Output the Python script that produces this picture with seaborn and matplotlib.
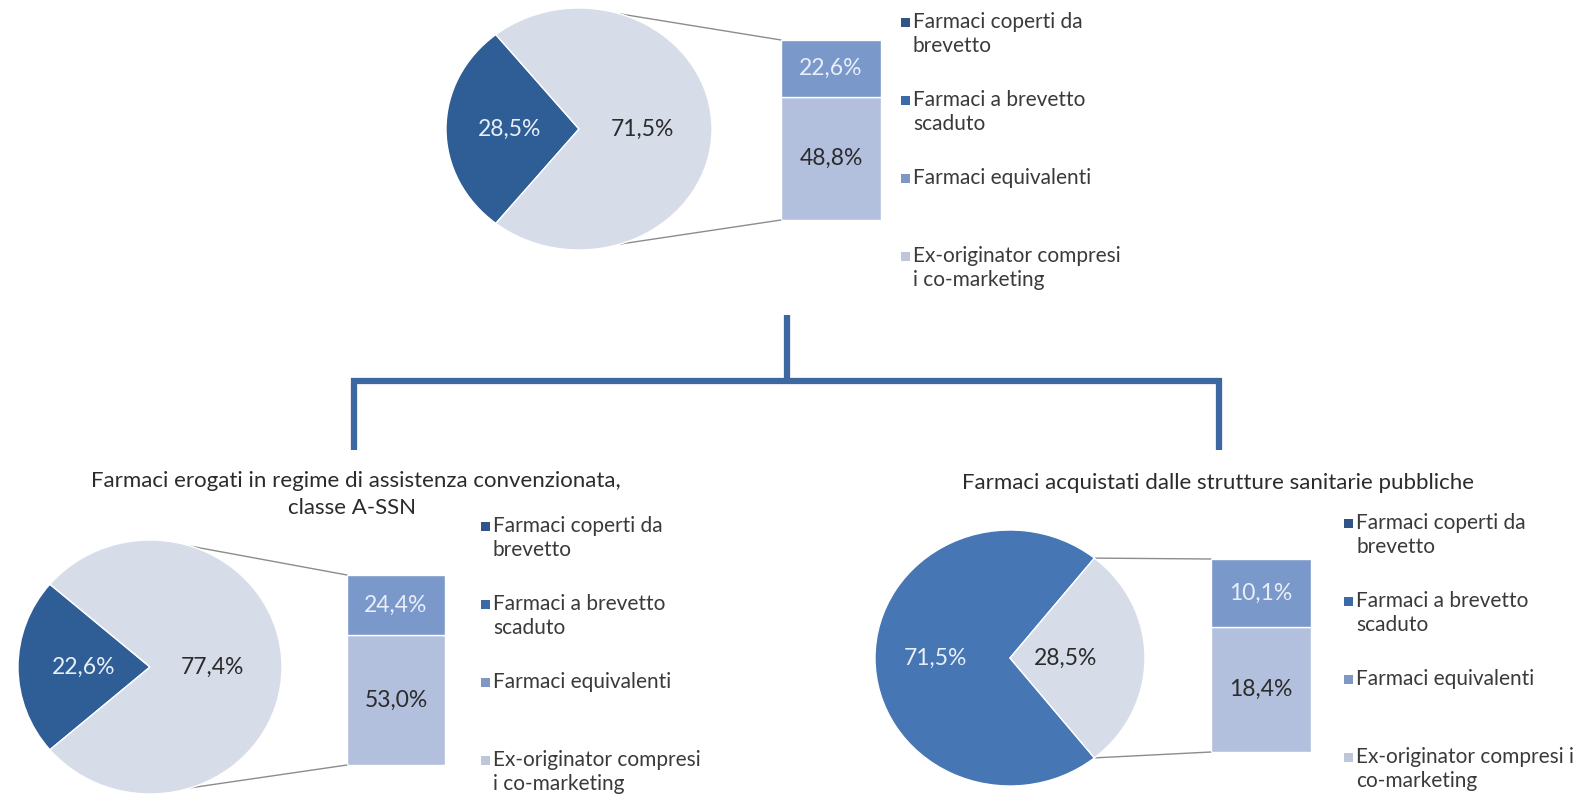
import numpy as np
import matplotlib
matplotlib.use("Agg")
import matplotlib.pyplot as plt
import seaborn as sns
from matplotlib.patches import ConnectionPatch, Rectangle

sns.set_theme(style="white")
plt.rcParams["font.family"] = ["Lato", "DejaVu Sans"]

# ---- data -------------------------------------------------------------
legend_labels = [
    ["Farmaci coperti da", "brevetto"],
    ["Farmaci a brevetto", "scaduto"],
    ["Farmaci equivalenti"],
    ["Ex-originator compresi", "i co-marketing"],
]
legend_labels_right = [
    ["Farmaci coperti da", "brevetto"],
    ["Farmaci a brevetto", "scaduto"],
    ["Farmaci equivalenti"],
    ["Ex-originator compresi i", "co-marketing"],
]

top_pie = [28.5, 71.5]          # coperti da brevetto / brevetto scaduto
top_bar = [22.6, 48.8]          # equivalenti / ex-originator

left_title = ["Farmaci erogati in regime di assistenza convenzionata,", "classe A-SSN"]
left_pie = [22.6, 77.4]
left_bar = [24.4, 53.0]

right_title = ["Farmaci acquistati dalle strutture sanitarie pubbliche"]
right_pie = [71.5, 28.5]
right_bar = [10.1, 18.4]

# ---- style ------------------------------------------------------------
W, H = 1579, 801
DARK = "#2F5E96"
MID = "#4676B3"
LIGHT = "#D6DDE9"
BAR_HIGH = "#7A98CA"
BAR_LOW = "#B3C0DD"
LEG_COLORS = ["#2F548A", "#3C69A8", "#7F97C4", "#BEC7DA"]
TXT_LIGHT = "#E8EFF8"
TXT_DARK = "#2B2B2B"
TXT_LEG = "#3A3A3A"
BRACKET = "#3D67A1"
CONNECTOR = "#8C8C8C"
PCT_SIZE = 16.5
LEG_SIZE = 15
TITLE_SIZE = 16


def fmt(v):
    return f"{v:.1f}%".replace(".", ",")


fig = plt.figure(figsize=(W / 100, H / 100), dpi=100)
fig.patch.set_facecolor("white")

# overlay in pixel units for titles, legends and the bracket
over = fig.add_axes([0, 0, 1, 1], zorder=0)
over.set_xlim(0, W)
over.set_ylim(H, 0)
over.axis("off")
over.patch.set_alpha(0)


def px_axes(left, top, width, height):
    ax = fig.add_axes([left / W, 1 - (top + height) / H, width / W, height / H], zorder=2)
    ax.patch.set_alpha(0)
    return ax


def draw_pie(box, values, first_color, label_r):
    ax = px_axes(*box)
    start = 180 - values[0] * 3.6 / 2
    wedges, _ = ax.pie(values, colors=[first_color, LIGHT], startangle=start,
                       counterclock=True, radius=1,
                       wedgeprops=dict(linewidth=1.0, edgecolor="white"))
    ax.set_aspect("auto")
    ax.set_xlim(-1, 1)
    ax.set_ylim(-1, 1)
    for w, v, c, r in zip(wedges, values, [TXT_LIGHT, TXT_DARK], label_r):
        mid = np.deg2rad((w.theta1 + w.theta2) / 2)
        ax.text(r * np.cos(mid), r * np.sin(mid), fmt(v), ha="center", va="center",
                color=c, fontsize=PCT_SIZE)
    return ax


def draw_bar(box, values):
    ax = px_axes(*box)
    high, low = values
    sns.barplot(x=[0], y=[low], color=BAR_LOW, width=1, saturation=1,
                edgecolor="white", linewidth=1, ax=ax)
    sns.barplot(x=[0], y=[high], bottom=low, color=BAR_HIGH, width=1, saturation=1,
                edgecolor="white", linewidth=1, ax=ax)
    ax.set_xlim(-0.5, 0.5)
    ax.set_ylim(0, high + low)
    ax.axis("off")
    ax.text(0, low + high / 2, fmt(high), ha="center", va="center", color=TXT_LIGHT,
            fontsize=PCT_SIZE)
    ax.text(0, low / 2, fmt(low), ha="center", va="center", color=TXT_DARK,
            fontsize=PCT_SIZE)
    return ax


def connect(pie_ax, bar_ax, values, bar_vals):
    half = values[1] * 3.6 / 2
    a = np.deg2rad(min(half, 72))
    total = sum(bar_vals)
    for sy, by in [(1, total), (-1, 0)]:
        con = ConnectionPatch(xyA=(np.cos(a), sy * np.sin(a)), coordsA=pie_ax.transData,
                              xyB=(-0.5, by), coordsB=bar_ax.transData,
                              color=CONNECTOR, lw=1.0, zorder=1)
        fig.add_artist(con)


def draw_legend(x_marker, y_first, labels, step=78, line=24):
    for i, (lines, col) in enumerate(zip(labels, LEG_COLORS)):
        y = y_first + i * step
        over.add_patch(Rectangle((x_marker, y - 4.5), 9, 9, facecolor=col, edgecolor="none"))
        for j, t in enumerate(lines):
            over.text(x_marker + 12, y + j * line, t, ha="left", va="center",
                      color=TXT_LEG, fontsize=LEG_SIZE)


# ---- top chart ----------------------------------------------------------
p = draw_pie((446, 8, 266, 242), top_pie, DARK, [0.52, 0.48])
b = draw_bar((781, 40, 100, 180), top_bar)
connect(p, b, top_pie, top_bar)
draw_legend(901, 22, legend_labels)

# ---- bottom-left chart --------------------------------------------------
p = draw_pie((18, 540, 264, 254), left_pie, DARK, [0.5, 0.47])
b = draw_bar((347, 575, 98, 190), left_bar)
connect(p, b, left_pie, left_bar)
draw_legend(481, 526, legend_labels)
over.text(356, 481, left_title[0], ha="center", va="center", color=TXT_DARK, fontsize=TITLE_SIZE)
over.text(352, 508, left_title[1], ha="center", va="center", color=TXT_DARK, fontsize=TITLE_SIZE)

# ---- bottom-right chart -------------------------------------------------
p = draw_pie((875, 530, 270, 256), right_pie, MID, [0.55, 0.41])
b = draw_bar((1211, 559, 100, 193), right_bar)
connect(p, b, right_pie, right_bar)
draw_legend(1344, 523, legend_labels_right)
over.text(1218, 483, right_title[0], ha="center", va="center", color=TXT_DARK, fontsize=TITLE_SIZE)

# ---- bracket linking the overall chart to the two breakdowns ------------
over.plot([787, 787], [315, 381], color=BRACKET, lw=4.5, solid_capstyle="butt")
over.plot([354, 354, 1219, 1219], [450, 381, 381, 450], color=BRACKET, lw=4.5,
          solid_joinstyle="miter", solid_capstyle="butt")

fig.savefig("out.png", dpi=100, facecolor="white")
